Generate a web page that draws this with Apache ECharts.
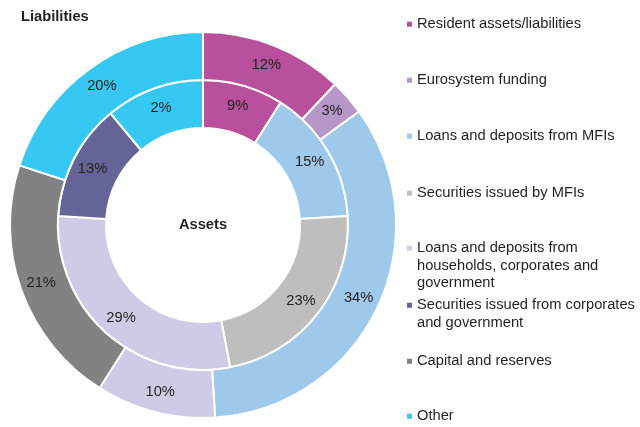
<!DOCTYPE html>
<html>
<head>
<meta charset="utf-8">
<script src="https://cdn.jsdelivr.net/npm/echarts@6/dist/echarts.min.js"></script>
<style>
  html, body { margin: 0; padding: 0; background: #fff; }
  #chart { width: 640px; height: 427px; }
</style>
</head>
<body>
<div id="chart"></div>
<script>
const categories = [
  'Resident assets/liabilities',
  'Eurosystem funding',
  'Loans and deposits from MFIs',
  'Securities issued by MFIs',
  'Loans and deposits from households, corporates and government',
  'Securities issued from corporates and government',
  'Capital and reserves',
  'Other'
];
// wrapped legend text, as printed
const legendText = [
  'Resident assets/liabilities',
  'Eurosystem funding',
  'Loans and deposits from MFIs',
  'Securities issued by MFIs',
  'Loans and deposits from\nhouseholds, corporates and\ngovernment',
  'Securities issued from corporates\nand government',
  'Capital and reserves',
  'Other'
];
// outer ring (liabilities), null = not on this side
const liabilities = [12, 3, 34, null, 10, null, 21, 20];
// inner ring (assets) slice sizes
const assets = [9, null, 15, 23, 29, 13, null, 11];
// labels printed on the inner ring (the "Other" slice reads 2% though it spans ~11%)
const assetLabels = ['9%', null, '15%', '23%', '29%', '13%', null, '2%'];

const colors = ['#b8509b', '#b797c8', '#9fc9ea', '#bfbebd', '#cecbe6', '#646497', '#828282', '#36c7f2'];

const FONT = 'Liberation Sans, Arial, sans-serif';
const FS = 14.7;
const LH = 17.5;
const TXT = '#231f20';
const CENTER = [203, 225];
const MK = 5;
const legendTops = [15.5, 71.5, 127.5, 184.5, 239.5, 296.5, 352.5, 407.5];

const chart = echarts.init(document.getElementById('chart'), null, { renderer: 'canvas' });

const toData = (vals, labels) => vals
  .map((v, i) => v == null ? null : {
    name: categories[i],
    value: v,
    itemStyle: { color: colors[i] },
    label: labels ? { formatter: labels[i] } : undefined
  })
  .filter(d => d);

// marker square sits beside the first text line
const iconFor = (h) => {
  const y0 = LH / 2 - MK / 2;
  return 'path://M0,0h0.01v0.01h-0.01z M0,' + y0 + 'h' + MK + 'v' + MK + 'h-' + MK + 'z M0,' + h + 'h0.01v-0.01h-0.01z';
};

const legends = categories.map((name, i) => {
  const lines = legendText[i].split('\n').length;
  const h = lines * LH;
  return {
    left: 407,
    top: legendTops[i],
    padding: 0,
    orient: 'vertical',
    selectedMode: false,
    itemWidth: MK,
    itemHeight: lines === 1 ? MK : h,
    itemStyle: { borderWidth: 0 },
    data: [{ name: name, icon: lines === 1 ? 'rect' : iconFor(h) }],
    formatter: () => legendText[i],
    textStyle: { fontFamily: FONT, fontSize: FS, lineHeight: LH, color: TXT }
  };
});

const ringBase = {
  type: 'pie',
  center: CENTER,
  startAngle: 90,
  clockwise: true,
  avoidLabelOverlap: false,
  labelLine: { show: false },
  itemStyle: { borderColor: '#fff', borderWidth: 2 },
  emphasis: { disabled: true },
  label: {
    show: true,
    position: 'inside',
    fontFamily: FONT,
    fontSize: FS,
    color: TXT
  }
};

chart.setOption({
  animation: false,
  title: {
    text: 'Liabilities',
    left: 21,
    top: 9,
    padding: 0,
    textStyle: { fontFamily: FONT, fontSize: FS, fontWeight: 'bold', color: TXT }
  },
  legend: legends,
  graphic: [{
    type: 'text',
    x: CENTER[0],
    y: CENTER[1],
    style: {
      text: 'Assets',
      fill: TXT,
      font: 'bold ' + FS + 'px ' + FONT,
      textAlign: 'center',
      textVerticalAlign: 'middle'
    }
  }],
  series: [
    Object.assign({}, ringBase, {
      name: 'Assets',
      radius: [97, 145],
      data: toData(assets, assetLabels)
    }),
    Object.assign({}, ringBase, {
      name: 'Liabilities',
      radius: [145, 193],
      label: Object.assign({}, ringBase.label, { formatter: '{c}%' }),
      data: toData(liabilities)
    })
  ]
});
</script>
</body>
</html>
